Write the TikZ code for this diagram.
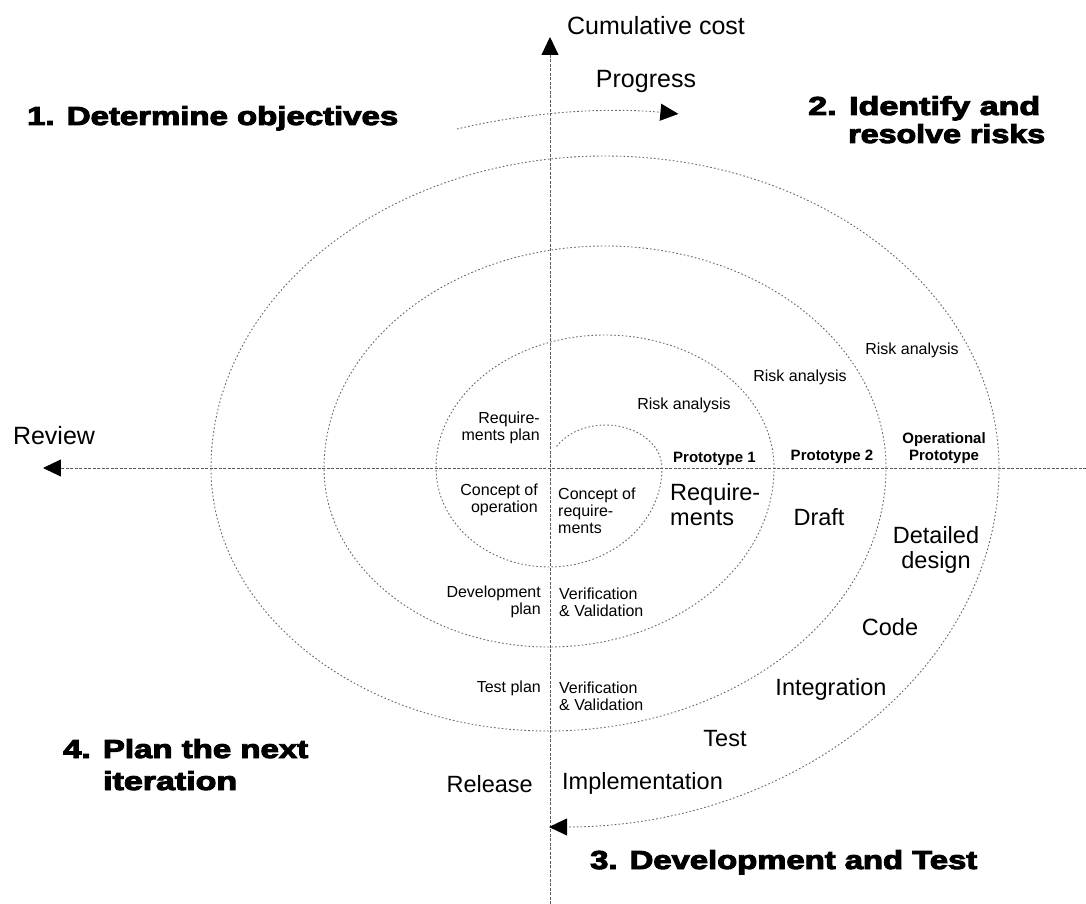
\documentclass[tikz,border=0pt]{standalone}
\usepackage{fontspec}
\setmainfont{Liberation Sans}
\newfontfamily\titlefont{Liberation Sans}[BoldFeatures={FakeBold=3.5}]
\usepackage{graphicx}
\usetikzlibrary{arrows.meta}
\newcommand\tline[2]{\resizebox{#1}{\height}{\titlefont\bfseries #2}}
\begin{document}
\begin{tikzpicture}[x=1pt,y=1pt,
  spiral/.style={draw=black!60, line width=0.9pt, dash pattern=on 1.6pt off 2.2pt},
  axisline/.style={draw=black!65, line width=0.9pt, dash pattern=on 3pt off 1.5pt},
  arrowtip/.style={-{Triangle[length=18pt,width=17pt,black]}},
  lblsmall/.style={font=\fontsize{16}{17}\selectfont, inner sep=0pt},
  lblbold/.style={font=\fontsize{15}{17}\selectfont\bfseries, inner sep=0pt},
  lbllarge/.style={font=\fontsize{23.5}{25}\selectfont, inner sep=0pt},
  toplabel/.style={font=\fontsize{25}{27}\selectfont, inner sep=0pt},
  ttl/.style={inner sep=0pt, font=\fontsize{26}{28}\selectfont}
]
\useasboundingbox (-550,-436) rectangle (536,468);

% axes
\coordinate (vbot) at (0,-436);
\coordinate (vtop) at (0,431);
\coordinate (hright) at (536,0);
\coordinate (hleft) at (-507,0);
\draw[axisline, arrowtip] (vbot) -- (vtop);
\draw[axisline, arrowtip] (hright) -- (hleft);

% spiral
\coordinate (s0) at (6.6,21.5);
\draw[spiral, arrowtip] (s0)
  arc[start angle=150, end angle=0, x radius=56.5, y radius=43]
  arc[start angle=0, end angle=-180, x radius=113, y radius=99]
  arc[start angle=180, end angle=0, x radius=169, y radius=133]
  arc[start angle=0, end angle=-180, x radius=225, y radius=179]
  arc[start angle=180, end angle=0, x radius=281, y radius=222]
  arc[start angle=0, end angle=-180, x radius=337.5, y radius=263]
  arc[start angle=180, end angle=0, x radius=394, y radius=312]
  arc[start angle=0, end angle=-90, x radius=450, y radius=359];

% progress arrow
\coordinate (p0) at (-93,339);
\draw[spiral, arrowtip] (p0) arc[start angle=108.3, end angle=82.6, x radius=500, y radius=357];

% titles
\node[ttl, anchor=base west] (t1) at (-523,343) {\tline{371pt}{1. Determine objectives}};
\node[ttl, anchor=base west] (t2a) at (258,353) {\tline{232pt}{2. Identify and}};
\node[ttl, anchor=base west] (t2b) at (298,325) {\tline{197pt}{resolve risks}};
\node[ttl, anchor=base west] (t3) at (40,-401) {\tline{387pt}{3. Development and Test}};
\node[ttl, anchor=base west] (t4a) at (-487,-290) {\tline{245pt}{4. Plan the next}};
\node[ttl, anchor=base west] (t4b) at (-447,-322) {\tline{134pt}{iteration}};

% axis labels
\node[toplabel] (cc) at (106,442) {Cumulative cost};
\node[toplabel] (pg) at (96,386) {Progress};
\node[toplabel] (rv) at (-496,32) {Review};

% small labels
\node[lblsmall, anchor=east, align=right] (rp) at (-10,40) {Require-\\ments plan};
\node[lblsmall, anchor=east, align=right] (co) at (-12,-32) {Concept of\\operation};
\node[lblsmall, anchor=west, align=left] (cr) at (8,-43) {Concept of\\require-\\ments};
\node[lblsmall] (ra1) at (134,63) {Risk analysis};
\node[lblsmall] (ra2) at (250,91) {Risk analysis};
\node[lblsmall] (ra3) at (362,118) {Risk analysis};
\node[lblbold, anchor=west] (p1) at (123,9) {Prototype 1};
\node[lblbold] (p2) at (282,11) {Prototype 2};
\node[lblbold, align=center] (op) at (394,20) {Operational\\Prototype};
\node[lblsmall, anchor=east, align=right] (dp) at (-9,-134) {Development\\plan};
\node[lblsmall, anchor=west, align=left] (vv1) at (9,-134) {Verification\\\& Validation};
\node[lblsmall, anchor=east] (tp) at (-9,-220) {Test plan};
\node[lblsmall, anchor=west, align=left] (vv2) at (9,-228) {Verification\\\& Validation};

% large labels
\node[lbllarge, anchor=west, align=left] (rq) at (120,-37) {Require-\\ments};
\node[lbllarge] (dr) at (269,-49) {Draft};
\node[lbllarge, align=center] (dd) at (386,-82) {Detailed\\design};
\node[lbllarge] (cd) at (340,-159) {Code};
\node[lbllarge] (ig) at (281,-221) {Integration};
\node[lbllarge] (ts) at (175,-271) {Test};
\node[lbllarge, anchor=west] (im) at (12,-315) {Implementation};
\node[lbllarge, anchor=east] (rl) at (-17,-316) {Release};
\end{tikzpicture}
\end{document}
